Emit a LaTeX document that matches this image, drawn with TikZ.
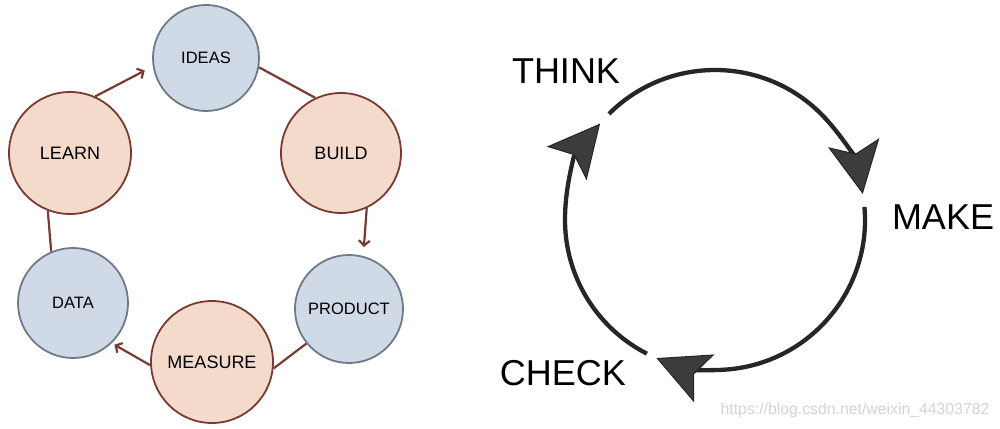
\documentclass[tikz,border=0pt]{standalone}
\usepackage{fontspec}
\setmainfont{Liberation Sans}
\usetikzlibrary{arrows.meta}
\definecolor{peach}{HTML}{F3DACB}
\definecolor{redline}{HTML}{7A3A34}
\definecolor{bluefill}{HTML}{D0DAE7}
\definecolor{blueline}{HTML}{6E7A8A}
\definecolor{darkarc}{HTML}{262626}
\definecolor{headfill}{HTML}{3C3C3C}
\definecolor{wm}{HTML}{D4D4D4}
\begin{document}
\begin{tikzpicture}[x=1pt,y=1pt,
  redc/.style={circle, draw=redline, fill=peach, line width=1.8pt, inner sep=0pt, font=\fontsize{18}{20}\selectfont},
  bluec/.style={circle, draw=blueline, fill=bluefill, line width=1.8pt, inner sep=0pt, font=\fontsize{16.5}{18}\selectfont},
  link/.style={draw=redline, line width=2.2pt},
  arr/.style={link, -{Straight Barb[length=5pt,width=11pt]}},
  bigarc/.style={draw=darkarc, line width=4.3pt, -{Stealth[length=52pt,width=52pt,inset=11pt,fill=headfill,line width=1pt]}},
  biglabel/.style={font=\fontsize{36}{40}\selectfont, inner sep=0pt}
]
\useasboundingbox[fill=white] (0,0) rectangle (1000,428);

% left cycle
\node[bluec, minimum size=106pt] (ideas) at (206,370) {IDEAS};
\node[redc, minimum size=120pt] (build) at (341,275) {BUILD};
\node[redc, minimum size=122pt] (learn) at (70,275) {LEARN};
\node[bluec, minimum size=110pt] (data) at (73,125) {DATA};
\node[bluec, minimum size=108pt] (product) at (349,119) {PRODUCT};
\node[redc, minimum size=122pt] (measure) at (212,66) {MEASURE};

\draw[arr, shorten >=9pt] (learn.66) -- (ideas.189);
\draw[link] (ideas.350) -- (build.115);
\draw[arr, shorten >=9pt] (build.295) -- (product.75);
\draw[link] (product.219) -- (measure.354);
\draw[arr, shorten >=3pt] (measure.183) -- (data.314);
\draw[link] (data.113) -- (learn.249);

% right cycle
\coordinate (c) at (715,208);
\draw[bigarc] ([shift={(135:150)}]c) arc[start angle=135, end angle=10, radius=150];
\draw[bigarc] ([shift={(5:150)}]c) arc[start angle=5, end angle=-113, radius=150];
\draw[bigarc] ([shift={(-117:150)}]c) arc[start angle=-117, end angle=-220, radius=150];

\node[biglabel] (think) at (566,357) {THINK};
\node[biglabel] (make) at (943,211) {MAKE};
\node[biglabel] (check) at (563,55) {CHECK};

\node[font=\fontsize{15.8}{18}\selectfont, text=wm, inner sep=0pt] (wm) at (855,18) {https://blog.csdn.net/weixin\_44303782};
\end{tikzpicture}
\end{document}
